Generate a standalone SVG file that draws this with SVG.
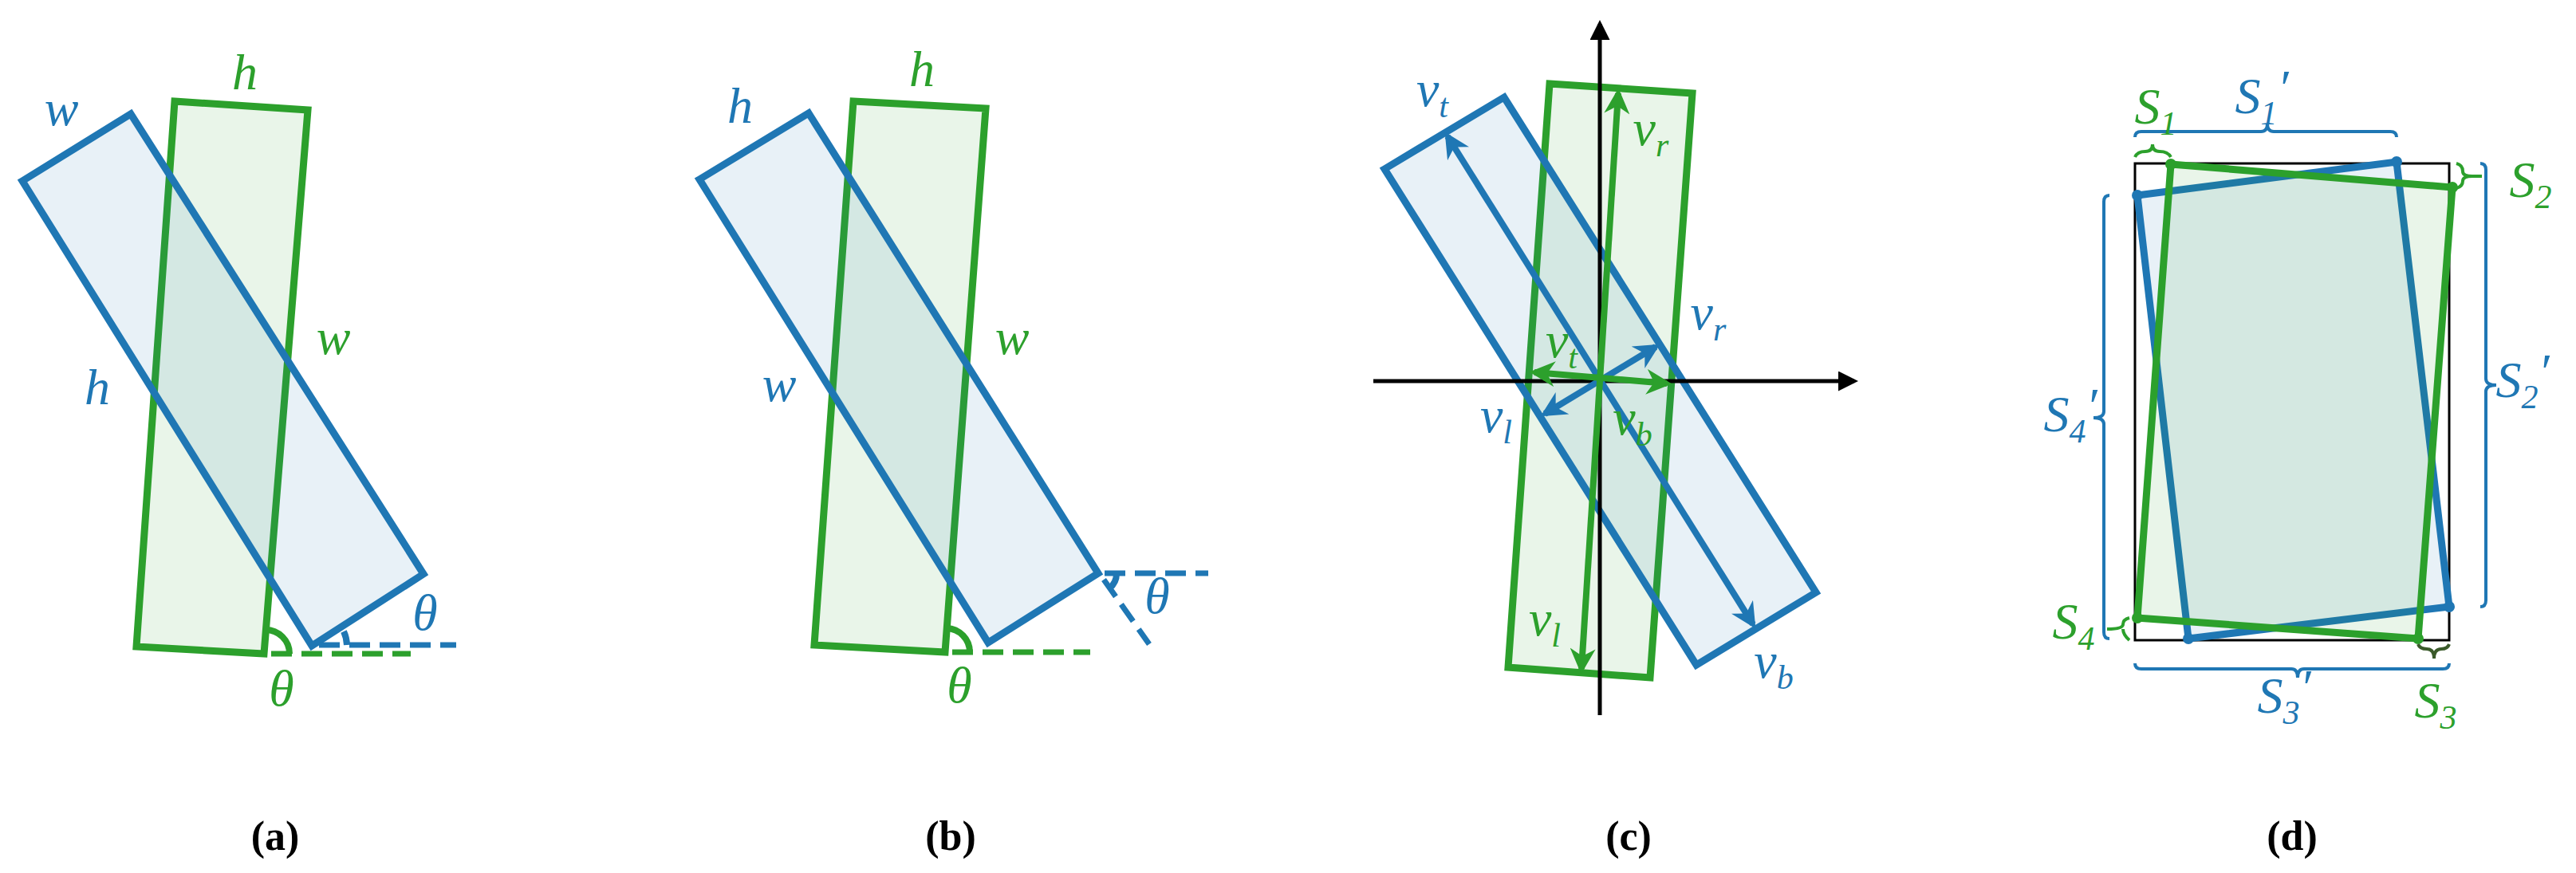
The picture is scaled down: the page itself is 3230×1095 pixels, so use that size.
<svg xmlns="http://www.w3.org/2000/svg" width="3230" height="1095" viewBox="0 0 3230 1095">
<style>
.b{fill:#1f77b4;fill-opacity:.1;stroke:#1f77b4;stroke-width:9;stroke-linejoin:miter}
.g{fill:#2ca02c;fill-opacity:.1;stroke:#2ca02c;stroke-width:9;stroke-linejoin:miter}
.bl{fill:none;stroke:#1f77b4;stroke-width:8}
.gl{fill:none;stroke:#2ca02c;stroke-width:8}
.bd{fill:none;stroke:#1f77b4;stroke-width:7;stroke-dasharray:26 12}
.gd{fill:none;stroke:#2ca02c;stroke-width:7;stroke-dasharray:26 12}
.m{font-family:"Liberation Serif",serif;font-style:italic;font-size:64px;text-anchor:middle}
.tb{fill:#1f77b4}.tg{fill:#2ca02c}
.s{font-size:42px}
.cap{font-family:"Liberation Serif",serif;font-weight:bold;font-size:52px;text-anchor:middle;fill:#000}
.ax{stroke:#000;stroke-width:5;fill:none}
.br{fill:none;stroke:#1f77b4;stroke-width:4}
.brg{fill:none;stroke:#2ca02c;stroke-width:4}
</style>
<defs>
<marker id="ab" viewBox="0 0 10 10" refX="8" refY="5" markerWidth="4" markerHeight="4" orient="auto-start-reverse"><path d="M0,0 L10,5 L0,10 L3,5z" fill="#1f77b4"/></marker>
<marker id="ag" viewBox="0 0 10 10" refX="8" refY="5" markerWidth="4" markerHeight="4" orient="auto-start-reverse"><path d="M0,0 L10,5 L0,10 L3,5z" fill="#2ca02c"/></marker>
<marker id="ak" viewBox="0 0 10 10" refX="8" refY="5" markerWidth="5" markerHeight="5" orient="auto"><path d="M0,0 L10,5 L0,10z" fill="#000"/></marker>
</defs>

<g id="panel-a">
<polygon class="g" points="219,127 386,138 331,820 171,811"/>
<polygon class="b" points="28,227 164,143 531,720 391,810"/>
<path class="gd" d="M340,820 H515"/>
<path class="bd" d="M400,809 H572"/>
<path class="gl" d="M333,790 A30,30 0 0 1 363,820"/>
<path class="bl" d="M431,792 A44,44 0 0 1 435,809"/>
<text class="m tb" x="77" y="157">w</text>
<text class="m tg" x="307" y="112">h</text>
<text class="m tg" x="418" y="444">w</text>
<text class="m tb" x="122" y="507">h</text>
<text class="m tb" x="533" y="790">θ</text>
<text class="m tg" x="353" y="885">θ</text>
<text class="cap" x="345" y="1066">(a)</text>
</g>

<g id="panel-b">
<polygon class="g" points="1070,127 1236,136 1185,818 1021,809"/>
<polygon class="b" points="877,225 1014,142 1377,719 1239,806"/>
<path class="gd" d="M1194,818 H1367"/>
<path class="bd" d="M1385,719 H1515"/>
<path class="bd" d="M1384,727 L1441,808"/>
<path class="gl" d="M1187,788 A30,30 0 0 1 1216,818"/>
<path class="bl" d="M1400,719 A24,24 0 0 1 1391,738"/>
<text class="m tb" x="928" y="154">h</text>
<text class="m tg" x="1156" y="108">h</text>
<text class="m tg" x="1269" y="444">w</text>
<text class="m tb" x="977" y="503">w</text>
<text class="m tb" x="1451" y="769">θ</text>
<text class="m tg" x="1203" y="881">θ</text>
<text class="cap" x="1192" y="1066">(b)</text>
</g>

<g id="panel-c">
<polygon class="g" points="1943,105 2122,117 2069,850 1891,837"/>
<polygon class="b" points="1736,212 1886,122 2277,743 2127,834"/>
<path class="ax" d="M2006,897 V30" marker-end="url(#ak)"/>
<path class="ax" d="M1722,478 H2325" marker-end="url(#ak)"/>
<path class="bl" d="M1815,171 L2198,783" marker-start="url(#ab)" marker-end="url(#ab)"/>
<path class="bl" d="M1937,519 L2076,435" marker-start="url(#ab)" marker-end="url(#ab)"/>
<path class="gl" d="M2029,117 L1983,839" marker-start="url(#ag)" marker-end="url(#ag)"/>
<path class="gl" d="M1924,467 L2090,481" marker-start="url(#ag)" marker-end="url(#ag)"/>
<text class="m tb" x="1796" y="133">v<tspan class="s" dy="14">t</tspan></text>
<text class="m tg" x="2070" y="182">v<tspan class="s" dy="14">r</tspan></text>
<text class="m tb" x="2142" y="413">v<tspan class="s" dy="14">r</tspan></text>
<text class="m tg" x="1958" y="448">v<tspan class="s" dy="14">t</tspan></text>
<text class="m tb" x="1876" y="542">v<tspan class="s" dy="14">l</tspan></text>
<text class="m tg" x="2047" y="545">v<tspan class="s" dy="14">b</tspan></text>
<text class="m tg" x="1937" y="797">v<tspan class="s" dy="14">l</tspan></text>
<text class="m tb" x="2224" y="850">v<tspan class="s" dy="14">b</tspan></text>
<text class="cap" x="2042" y="1066">(c)</text>
</g>

<g id="panel-d">
<rect x="2677" y="205" width="394" height="598" fill="none" stroke="#000" stroke-width="3"/>
<polygon class="b" points="2680,245 3005,203 3071,761 2744,801"/>
<polygon class="g" points="2722,206 3075,235 3032,801 2680,775"/>
<g fill="#1f77b4"><circle cx="2680" cy="245" r="7"/><circle cx="3005" cy="203" r="7"/><circle cx="3071" cy="761" r="7"/><circle cx="2744" cy="801" r="7"/></g>
<g fill="#2ca02c"><circle cx="2722" cy="206" r="7"/><circle cx="3075" cy="235" r="7"/><circle cx="3032" cy="801" r="7"/><circle cx="2680" cy="775" r="7"/></g>
<path class="br" d="M2677,172 Q2677,165 2685,165 L2835,165 Q2843,165 2843,155 Q2843,165 2851,165 L2997,165 Q3005,165 3005,172"/>
<path class="brg" d="M2677,197 Q2680,190 2690,190 Q2699,190 2699,181 Q2699,190 2708,190 Q2718,190 2722,197"/>
<path class="brg" d="M3080,205 Q3088,207 3088,215 Q3088,221 3100,221 L3112,221 M3100,221 Q3088,221 3088,227 Q3088,234 3080,236"/>
<path class="br" d="M3110,205 Q3117,205 3117,213 L3117,475 Q3117,483 3130,483 Q3117,483 3117,491 L3117,753 Q3117,761 3110,761"/>
<path class="br" d="M2645,245 Q2638,245 2638,253 L2638,516 Q2638,524 2625,524 Q2638,524 2638,532 L2638,793 Q2638,801 2645,801"/>
<path class="brg" d="M2670,775 Q2662,777 2662,783 Q2662,789 2642,789 M2662,789 Q2662,796 2670,803"/>
<path class="br" d="M2677,832 Q2677,839 2685,839 L2873,839 Q2881,839 2881,850 Q2881,839 2889,839 L3063,839 Q3071,839 3071,832"/>
<path d="M3032,808 Q3034,814 3043,814 Q3052,814 3052,826 Q3052,814 3061,814 Q3069,814 3071,808" fill="none" stroke="#3a5a2a" stroke-width="4"/>
<text class="m tb" x="2836" y="142">S<tspan class="s" dy="14">1</tspan><tspan dy="-24">′</tspan></text>
<text class="m tg" x="2703" y="155">S<tspan class="s" dy="14">1</tspan></text>
<text class="m tg" x="3173" y="247">S<tspan class="s" dy="14">2</tspan></text>
<text class="m tb" x="3163" y="498">S<tspan class="s" dy="14">2</tspan><tspan dy="-24">′</tspan></text>
<text class="m tb" x="2596" y="541">S<tspan class="s" dy="14">4</tspan><tspan dy="-24">′</tspan></text>
<text class="m tg" x="2600" y="801">S<tspan class="s" dy="14">4</tspan></text>
<text class="m tb" x="2864" y="894">S<tspan class="s" dy="14">3</tspan><tspan dy="-24">′</tspan></text>
<text class="m tg" x="3054" y="900">S<tspan class="s" dy="14">3</tspan></text>
<text class="cap" x="2874" y="1066">(d)</text>
</g>
</svg>
